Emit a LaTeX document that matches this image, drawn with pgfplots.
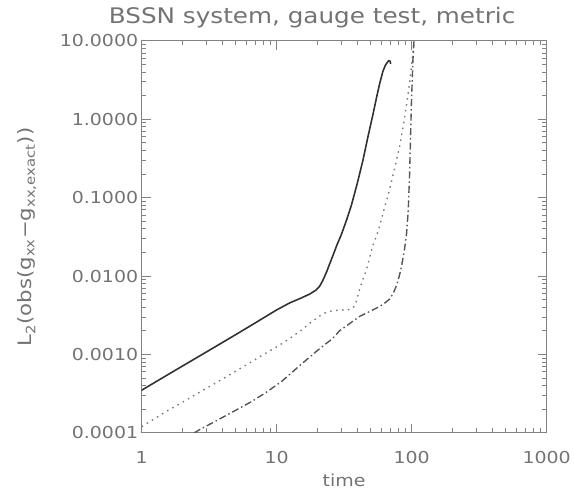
\documentclass[border=0pt]{standalone}
\usepackage{fontspec}
\setmainfont{DejaVu Sans}[FakeStretch=1.15]
\usepackage{pgfplots}
\pgfplotsset{compat=1.18}
\definecolor{txt}{RGB}{115,115,115}
\definecolor{axl}{RGB}{130,130,130}
\definecolor{c1}{RGB}{50,50,50}
\definecolor{c2}{RGB}{120,120,120}
\definecolor{c3}{RGB}{85,85,85}
\begin{document}
\begin{tikzpicture}
\begin{axis}[
  scale only axis, width=406pt, height=393pt,
  xmode=log, ymode=log,
  xmin=1, xmax=1000, ymin=1e-4, ymax=10,
  log basis x=10, log basis y=10,
  xtick={1,10,100,1000}, xticklabels={1,10,100,1000},
  minor xtick={2,3,4,5,6,7,8,9,20,30,40,50,60,70,80,90,200,300,400,500,600,700,800,900},
  ytick={1e-4,1e-3,1e-2,1e-1,1,10},
  yticklabels={0.0001,0.0010,0.0100,0.1000,1.0000,10.0000},
  minor ytick={2e-4,3e-4,4e-4,5e-4,6e-4,7e-4,8e-4,9e-4,2e-3,3e-3,4e-3,5e-3,6e-3,7e-3,8e-3,9e-3,2e-2,3e-2,4e-2,5e-2,6e-2,7e-2,8e-2,9e-2,0.2,0.3,0.4,0.5,0.6,0.7,0.8,0.9,2,3,4,5,6,7,8,9},
  axis line style={axl, line width=0.9pt},
  major tick style={draw=axl, line width=1pt},
  minor tick style={draw=axl, line width=1pt},
  major tick length=9pt, minor tick length=4.5pt,
  tick align=inside,
  ticklabel style={text=txt, font=\fontsize{16.5}{18}\selectfont},
  xticklabel style={anchor=base, yshift=-31pt},
  title={BSSN system, gauge test, metric},
  title style={at={(axis description cs:0.421,1)}, anchor=base, yshift=11pt, text=txt, font=\fontsize{21.5}{23}\selectfont},
  xlabel={time},
  xlabel style={at={(axis description cs:0.5,0)}, anchor=base, yshift=-54pt, text=txt, font=\fontsize{16.5}{18}\selectfont},
  ylabel={L\textsubscript{2}(obs(g\textsubscript{xx}−g\textsubscript{xx,exact}))},
  ylabel style={at={(axis description cs:-0.283,0.5)}, anchor=center, text=txt, font=\fontsize{18.5}{20}\selectfont},
]
\addplot[c1, line width=1.6pt] coordinates {
(1,3.5e-4) (1.5,5.3e-4) (2,7.1e-4) (3,1.07e-3) (5,1.8e-3) (7,2.55e-3) (10,3.7e-3)
(12.5,4.55e-3) (15,5.2e-3) (17.6,5.9e-3) (19.5,6.6e-3) (20.8,7.4e-3) (22,8.8e-3)
(23.4,0.0112) (26,0.0179) (28,0.025) (30.2,0.034) (33,0.052) (35.8,0.08) (39.5,0.15) (43.6,0.3) (47.5,0.6) (51.7,1.15)
(55,1.9) (58,2.85) (61.3,4.1) (64,4.9) (66.5,5.4) (68,5.6) (69.3,5.5) (70,5.1)
};
\addplot[c2, line width=1.4pt, dash pattern=on 1.5pt off 4.5pt] coordinates {
(1,1.2e-4) (1.5,1.85e-4) (2,2.45e-4) (2.69,3.3e-4) (4,4.9e-4) (6,7.4e-4) (8,1.0e-3)
(10,1.25e-3) (12.5,1.6e-3) (15,2.0e-3) (17.6,2.5e-3) (20,2.95e-3) (22,3.3e-3)
(24,3.5e-3) (26,3.62e-3) (30,3.7e-3) (34,3.72e-3) (36.5,3.85e-3) (38.5,4.4e-3)
(41,6.6e-3) (43.5,9.0e-3) (46.4,0.0122) (51.4,0.024) (57,0.039) (62,0.067)
(68.7,0.127) (75,0.24) (81.5,0.45) (87,0.85) (91.3,1.46) (96.7,2.9) (102.3,7.0) (105,10)
};
\addplot[c3, line width=1.4pt, dash pattern=on 7pt off 3pt on 1.5pt off 3pt] coordinates {
(2.45,1.0e-4) (2.69,1.1e-4) (3.5,1.4e-4) (4.72,1.85e-4) (6.5,2.5e-4) (8.4,3.3e-4)
(11,4.6e-4) (14.8,7.2e-4) (20,1.12e-3) (26,1.6e-3) (29.2,2.0e-3) (35,2.5e-3)
(41,3.05e-3) (50,3.6e-3) (58,4.1e-3) (64,4.6e-3) (68.7,5.1e-3) (73,6.0e-3)
(77.4,7.6e-3) (81,0.010) (84.2,0.0133) (88.6,0.022) (91.8,0.035) (94.5,0.07)
(96.7,0.21) (98,0.5) (99.5,1.46) (101,3.0) (102.3,5.7) (104,10)
};
\end{axis}
\path (current axis.south west) ++(-142pt,-62pt) rectangle ++(574pt,496pt);
\end{tikzpicture}
\end{document}
